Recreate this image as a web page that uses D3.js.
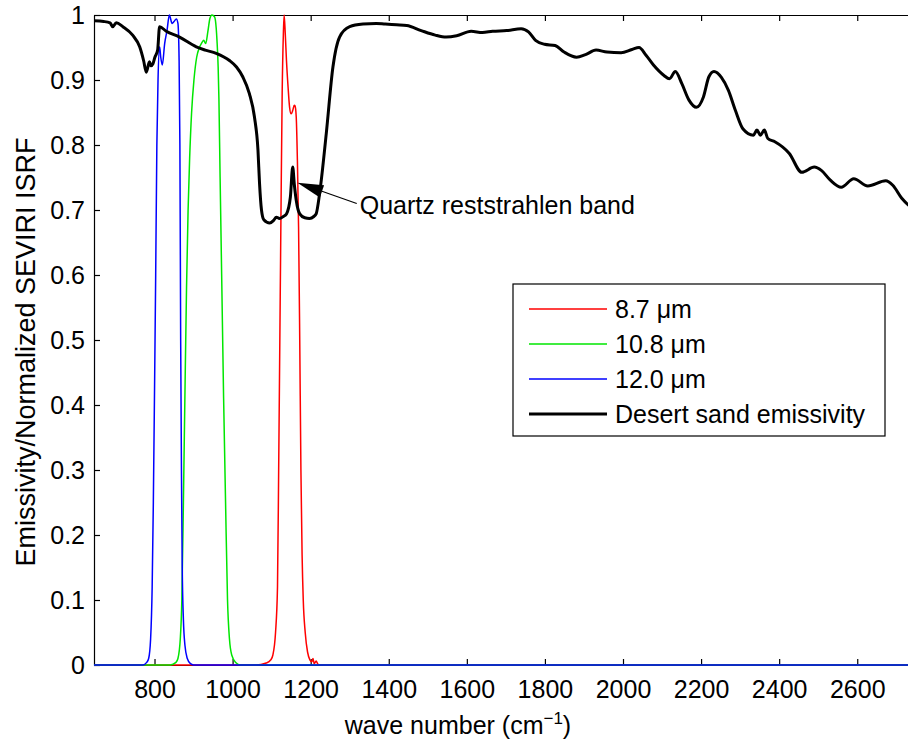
<!DOCTYPE html>
<html>
<head>
<meta charset="utf-8">
<script src="https://cdn.jsdelivr.net/npm/d3@7/dist/d3.min.js"></script>
<style>
  body { margin: 0; background: #fff; }
  svg { display: block; }
</style>
</head>
<body>
<svg id="chart"></svg>
<script>
// SEVIRI ISRF channels vs desert sand emissivity

// [wave number, normalized response]
const isrf87 = [[645,0],[1060,0],[1086,0.003],[1098,0.008],[1103,0.015],[1110,0.05],[1115,0.12],[1118,0.3],
  [1121,0.5],[1124,0.7],[1127,0.88],[1130,0.97],[1132,1.0],[1135,0.97],[1138,0.93],[1142,0.89],[1146,0.858],
  [1150,0.848],[1154,0.853],[1158,0.861],[1160,0.86],[1163,0.843],[1166,0.776],[1169,0.674],[1172,0.5],
  [1175,0.3],[1178,0.17],[1181,0.1],[1186,0.05],[1192,0.02],[1198,0.008],[1203,0.005],[1206,0.01],
  [1209,0.002],[1214,0.006],[1219,0.001],[1230,0],[2730,0]];

const isrf108 = [[645,0],[840,0],[855,0.004],[860,0.01],[866,0.04],[870,0.1],[874,0.25],[878,0.42],[882,0.58],
  [886,0.7],[890,0.78],[895,0.85],[901,0.9],[908,0.935],[915,0.95],[920,0.956],[926,0.961],[931,0.956],
  [937,0.976],[942,0.995],[947,1.0],[954,0.997],[958,0.98],[960,0.961],[963,0.92],[965,0.87],[968,0.75],
  [972,0.6],[977,0.41],[982,0.25],[987,0.1],[992,0.04],[998,0.015],[1008,0.004],[1020,0],[2730,0]];

const isrf120 = [[645,0],[770,0],[780,0.004],[785,0.01],[790,0.04],[794,0.12],[797,0.25],[800,0.42],[803,0.6],
  [806,0.8],[809,0.9],[813,0.951],[816,0.935],[820,0.923],[826,0.956],[832,0.976],[838,1.0],[845,0.987],
  [850,0.99],[856,0.994],[860,0.987],[863,0.93],[865,0.8],[867,0.5],[869,0.3],[871,0.15],[874,0.07],
  [878,0.03],[884,0.01],[892,0.002],[900,0],[2730,0]];

const sandEmis = [[645,0.991],[670,0.990],[686,0.988],[693,0.982],[702,0.988],[719,0.982],[744,0.969],
  [762,0.951],[772,0.93],[779,0.912],[787,0.928],[791,0.922],[796,0.925],[801,0.935],[808,0.946],[813,0.982],
  [830,0.975],[864,0.966],[907,0.951],[930,0.946],[958,0.941],[992,0.930],[1010,0.92],[1026,0.905],
  [1043,0.879],[1056,0.843],[1065,0.792],[1069,0.741],[1074,0.70],[1080,0.685],[1095,0.680],[1105,0.684],
  [1112,0.689],[1120,0.687],[1130,0.690],[1138,0.694],[1148,0.72],[1154,0.766],[1158,0.74],[1163,0.715],
  [1172,0.694],[1185,0.688],[1197,0.687],[1208,0.690],[1214,0.694],[1223,0.726],[1240,0.818],[1257,0.920],
  [1274,0.966],[1300,0.982],[1334,0.986],[1368,0.987],[1391,0.986],[1420,0.985],[1446,0.984],[1483,0.976],
  [1519,0.969],[1547,0.966],[1574,0.968],[1611,0.975],[1640,0.973],[1666,0.975],[1702,0.976],[1739,0.979],
  [1758,0.974],[1776,0.961],[1799,0.955],[1826,0.953],[1849,0.943],[1881,0.935],[1904,0.939],[1931,0.946],
  [1959,0.943],[1995,0.942],[2023,0.947],[2041,0.950],[2059,0.938],[2078,0.923],[2105,0.907],[2119,0.902],
  [2134,0.913],[2151,0.894],[2169,0.869],[2188,0.858],[2206,0.874],[2220,0.905],[2233,0.913],[2252,0.904],
  [2270,0.884],[2288,0.853],[2307,0.825],[2334,0.815],[2343,0.823],[2352,0.815],[2362,0.823],[2371,0.810],
  [2389,0.805],[2426,0.787],[2458,0.758],[2490,0.766],[2508,0.761],[2531,0.746],[2559,0.735],[2591,0.748],
  [2627,0.737],[2673,0.745],[2691,0.738],[2714,0.718],[2732,0.707]];

const seriesNames = ["8.7 \u03bcm", "10.8 \u03bcm", "12.0 \u03bcm", "Desert sand emissivity"];
const seriesColors = ["#ff0000", "#00e600", "#0000ff", "#000000"];
const xTicks = [800, 1000, 1200, 1400, 1600, 1800, 2000, 2200, 2400, 2600];
const yTicks = [0, 0.1, 0.2, 0.3, 0.4, 0.5, 0.6, 0.7, 0.8, 0.9, 1];
const annoText = "Quartz reststrahlen band";
const annoTip = [1166, 0.742];
const annoFrom = [1318, 0.710];

const W = 908, H = 741;
const margin = {top: 15, right: 0, bottom: 76, left: 94};
const font = "'Liberation Sans', Arial, Helvetica, sans-serif";
const fs = 25;

const svg = d3.select("#chart").attr("width", W).attr("height", H);

const x = d3.scaleLinear().domain([645, 2730]).range([margin.left, W - margin.right]);
const y = d3.scaleLinear().domain([0, 1]).range([H - margin.bottom, margin.top]);

svg.append("clipPath").attr("id", "plotclip")
  .append("rect")
    .attr("x", margin.left).attr("y", margin.top - 3)
    .attr("width", W - margin.left).attr("height", H - margin.bottom - margin.top + 6);

// axes: ticks pointing inwards
const fmtY = d => d === 0 ? "0" : d === 1 ? "1" : d3.format(".1f")(d);

let gx = svg.append("g")
  .attr("transform", `translate(0,${y(0)})`)
  .call(d3.axisBottom(x).tickValues(xTicks).tickFormat(d3.format("d"))
    .tickSizeInner(-6).tickSizeOuter(0).tickPadding(15));
let gxTop = svg.append("g")
  .attr("transform", `translate(0,${y(1)})`)
  .call(d3.axisTop(x).tickValues(xTicks).tickSizeInner(-6).tickSizeOuter(0).tickFormat(""));
let gy = svg.append("g")
  .attr("transform", `translate(${x(645)},0)`)
  .call(d3.axisLeft(y).tickValues(yTicks).tickSizeInner(-6).tickSizeOuter(0).tickPadding(9).tickFormat(fmtY));

[gx, gxTop, gy].forEach(g => {
  g.selectAll("path.domain").attr("stroke", "#000").attr("stroke-width", 1.2);
  g.selectAll(".tick line").attr("stroke", "#000").attr("stroke-width", 1.2);
  g.selectAll("text").attr("font-family", font).attr("font-size", fs).attr("fill", "#000");
});

// lines
const line = d3.line()
  .x(d => x(d[0]))
  .y(d => y(d[1]))
  .curve(d3.curveMonotoneX);

const allSeries = [isrf87, isrf108, isrf120, sandEmis];
const plot = svg.append("g").attr("clip-path", "url(#plotclip)");
allSeries.forEach((s, i) => {
  plot.append("path")
    .attr("d", line(s))
    .attr("fill", "none")
    .attr("stroke", seriesColors[i])
    .attr("stroke-width", i === 3 ? 3 : 1.5)
    .attr("stroke-linejoin", "round");
});

// annotation arrow
const tx = x(annoTip[0]), ty = y(annoTip[1]);
const fx = x(annoFrom[0]), fy = y(annoFrom[1]);
const ang = Math.atan2(fy - ty, fx - tx);
const headLen = 26, headW = 6.5;
const bx = tx + headLen * Math.cos(ang), by = ty + headLen * Math.sin(ang);
const px = -Math.sin(ang) * headW, py = Math.cos(ang) * headW;
svg.append("line")
  .attr("x1", fx).attr("y1", fy).attr("x2", bx).attr("y2", by)
  .attr("stroke", "#000").attr("stroke-width", 1.2);
svg.append("path")
  .attr("d", `M${tx},${ty}L${bx + px},${by + py}L${bx - px},${by - py}Z`)
  .attr("fill", "#000");
svg.append("text")
  .attr("x", fx + 3).attr("y", fy + 2)
  .attr("dy", "0.35em")
  .attr("font-family", font).attr("font-size", fs)
  .text(annoText);

// axis labels
svg.append("text")
  .attr("x", 458).attr("y", 734)
  .attr("text-anchor", "middle")
  .attr("font-family", font).attr("font-size", fs)
  .call(t => {
    t.append("tspan").text("wave number (cm");
    t.append("tspan").attr("font-size", 17).attr("dy", -10).text("\u22121");
    t.append("tspan").attr("dy", 10).text(")");
  });

svg.append("text")
  .attr("transform", "translate(35,352) rotate(-90)")
  .attr("text-anchor", "middle")
  .attr("font-family", font).attr("font-size", 27)
  .text("Emissivity/Normalized SEVIRI ISRF");

// legend
const lg = svg.append("g").attr("transform", "translate(513,284)");
lg.append("rect")
  .attr("width", 372).attr("height", 152)
  .attr("fill", "#fff").attr("stroke", "#000").attr("stroke-width", 1.2);
seriesNames.forEach((name, i) => {
  const ry = 25 + i * 35;
  lg.append("line")
    .attr("x1", 16).attr("x2", 94).attr("y1", ry).attr("y2", ry)
    .attr("stroke", seriesColors[i]).attr("stroke-width", i === 3 ? 3 : 1.5);
  lg.append("text")
    .attr("x", 102).attr("y", ry).attr("dy", "0.35em")
    .attr("font-family", font).attr("font-size", fs)
    .text(name);
});
</script>
</body>
</html>
